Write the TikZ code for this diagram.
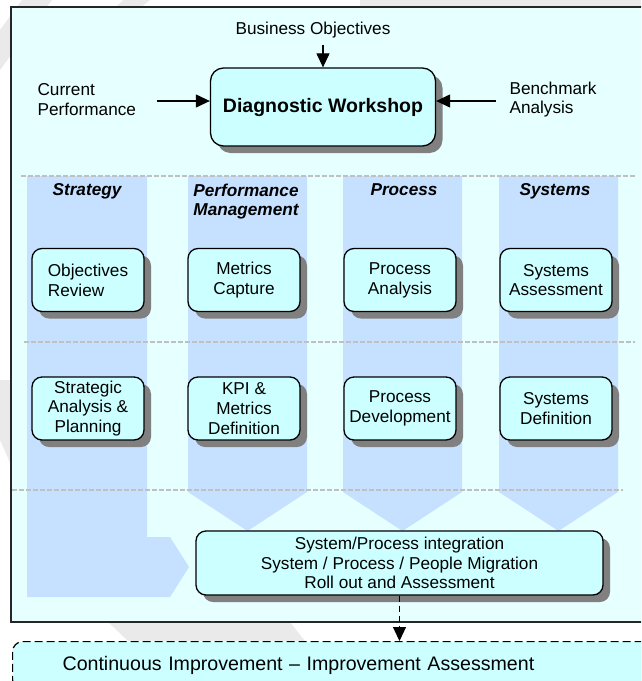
\documentclass[tikz,border=0pt]{standalone}
\usepackage{fontspec}
\setmainfont{Liberation Sans}
\usetikzlibrary{arrows.meta,shadows,positioning}

\definecolor{framecyan}{RGB}{230,255,255}
\definecolor{boxcyan}{RGB}{204,255,255}
\definecolor{bandblue}{RGB}{198,224,255}
\definecolor{sepgrey}{RGB}{192,192,192}
\definecolor{markgrey}{RGB}{234,234,234}

\begin{document}
\begin{tikzpicture}[x=1pt,y=-1pt,node distance=156pt]

\tikzstyle{every node}=[font=\fontsize{17.2}{19.8}\selectfont]
\tikzstyle{task}=[draw=black,line width=1.3pt,fill=boxcyan,rounded corners=10pt,
  drop shadow={shadow xshift=7pt,shadow yshift=-7pt,fill=black!50,opacity=1},
  minimum width=112pt,minimum height=63pt,inner sep=2pt,align=center]
\tikzstyle{band}=[fill=bandblue]
\tikzstyle{sep}=[sepgrey,line width=2pt,dash pattern=on 5pt off 2pt]
\tikzstyle{head}=[font=\fontsize{17.2}{19.8}\selectfont\bfseries\itshape,align=center,anchor=north]
\tikzstyle{arr}=[line width=1.2pt,-{Triangle[length=14pt,width=13pt]}]

\useasboundingbox (0,0) rectangle (641,681);
\clip (0,0) rectangle (641,681);

%watermark
\fill[markgrey] (22,0) -- (52,0) -- (0,70) -- (0,30) -- cycle;
\fill[markgrey] (123,0) -- (150,0) -- (140,8) -- (115,8) -- cycle;
\fill[markgrey] (360,0) rectangle (641,8);
\fill[markgrey] (0,380) -- (11,380) -- (11,465) -- (0,440) -- cycle;
\fill[markgrey] (108,622) -- (290,622) -- (305,641) -- (128,641) -- cycle;

%frame and columns
\draw[line width=1.3pt,draw=black!85,fill=framecyan] (11,7) rectangle (650,622);
\fill[band] (27,176) -- (147,176) -- (147,537) -- (170,537) -- (189,567)
  -- (170,597) -- (27,597) -- cycle;
\foreach \x in {188,343,499}
  \fill[band] (\x,176) -- ++(119,0) -- ++(0,316) -- ++(-59.5,39) -- ++(-59.5,-39) -- cycle;

\draw[sep] (21,176) -- (635,176);
\draw[sep] (24,342) -- (635,342);
\draw[sep] (12,490) -- (623,490);

\node[head] (hstr) at (87,180) {Strategy};
\node[head] (hperf) at (246,180) {Performance\\Management};
\node[head] (hproc) at (404,180) {Process};
\node[head] (hsys) at (555,180) {Systems};

%diagnostic
\node[task,minimum width=225pt,minimum height=78pt,rounded corners=13pt,
  font=\fontsize{19.5}{22}\selectfont\bfseries] (diag) at (323,107) {Diagnostic Workshop};
\node (bo) at (313,30) {Business Objectives};
\node[align=left,anchor=west] (cp) at (34,99.5) {Current\\Performance};
\node[align=left,anchor=west] (ba) at (506,99.5) {Benchmark\\Analysis};

\coordinate (boin) at (323,45);
\coordinate (cpin) at (157,101);
\coordinate (bain) at (496,101);
\draw[arr] (boin) -- (diag.north);
\draw[arr] (cpin) -- (cpin -| diag.west);
\draw[arr] (bain) -- (bain -| diag.east);

%first row
\node[task,align=left] (obj) at (88,280) {Objectives\\Review};
\node[task] (met) [right of=obj] {Metrics\\Capture};
\node[task] (pana) [right of=met] {Process\\Analysis};
\node[task] (sass) [right of=pana] {Systems\\Assessment};

%second row
\node[task] (stra) [node distance=128.5pt,below of=obj] {Strategic\\Analysis \&\\Planning};
\node[task] (kpi) [right of=stra] {KPI \&\\Metrics\\Definition};
\node[task] (pdev) [right of=kpi] {Process\\Development};
\node[task] (sdef) [right of=pdev] {Systems\\Definition};

%roll out
\node[task,minimum width=407pt,minimum height=64pt] (integ) at (399.5,563)
  {System/Process integration\\System / Process / People Migration\\Roll out and Assessment};
\node[draw=black,line width=1.2pt,dash pattern=on 8pt off 4pt,fill=boxcyan,rounded corners=10pt,
  font=\fontsize{19.6}{22}\selectfont,anchor=north west,minimum height=48pt,inner xsep=50pt,
  text width=540pt,align=left] (ci) at (12,641)
  {Continuous Improvement -- Improvement Assessment};
\draw[arr,dash pattern=on 6pt off 4pt] (integ.south) -- (integ.south |- ci.north);

\end{tikzpicture}
\end{document}
